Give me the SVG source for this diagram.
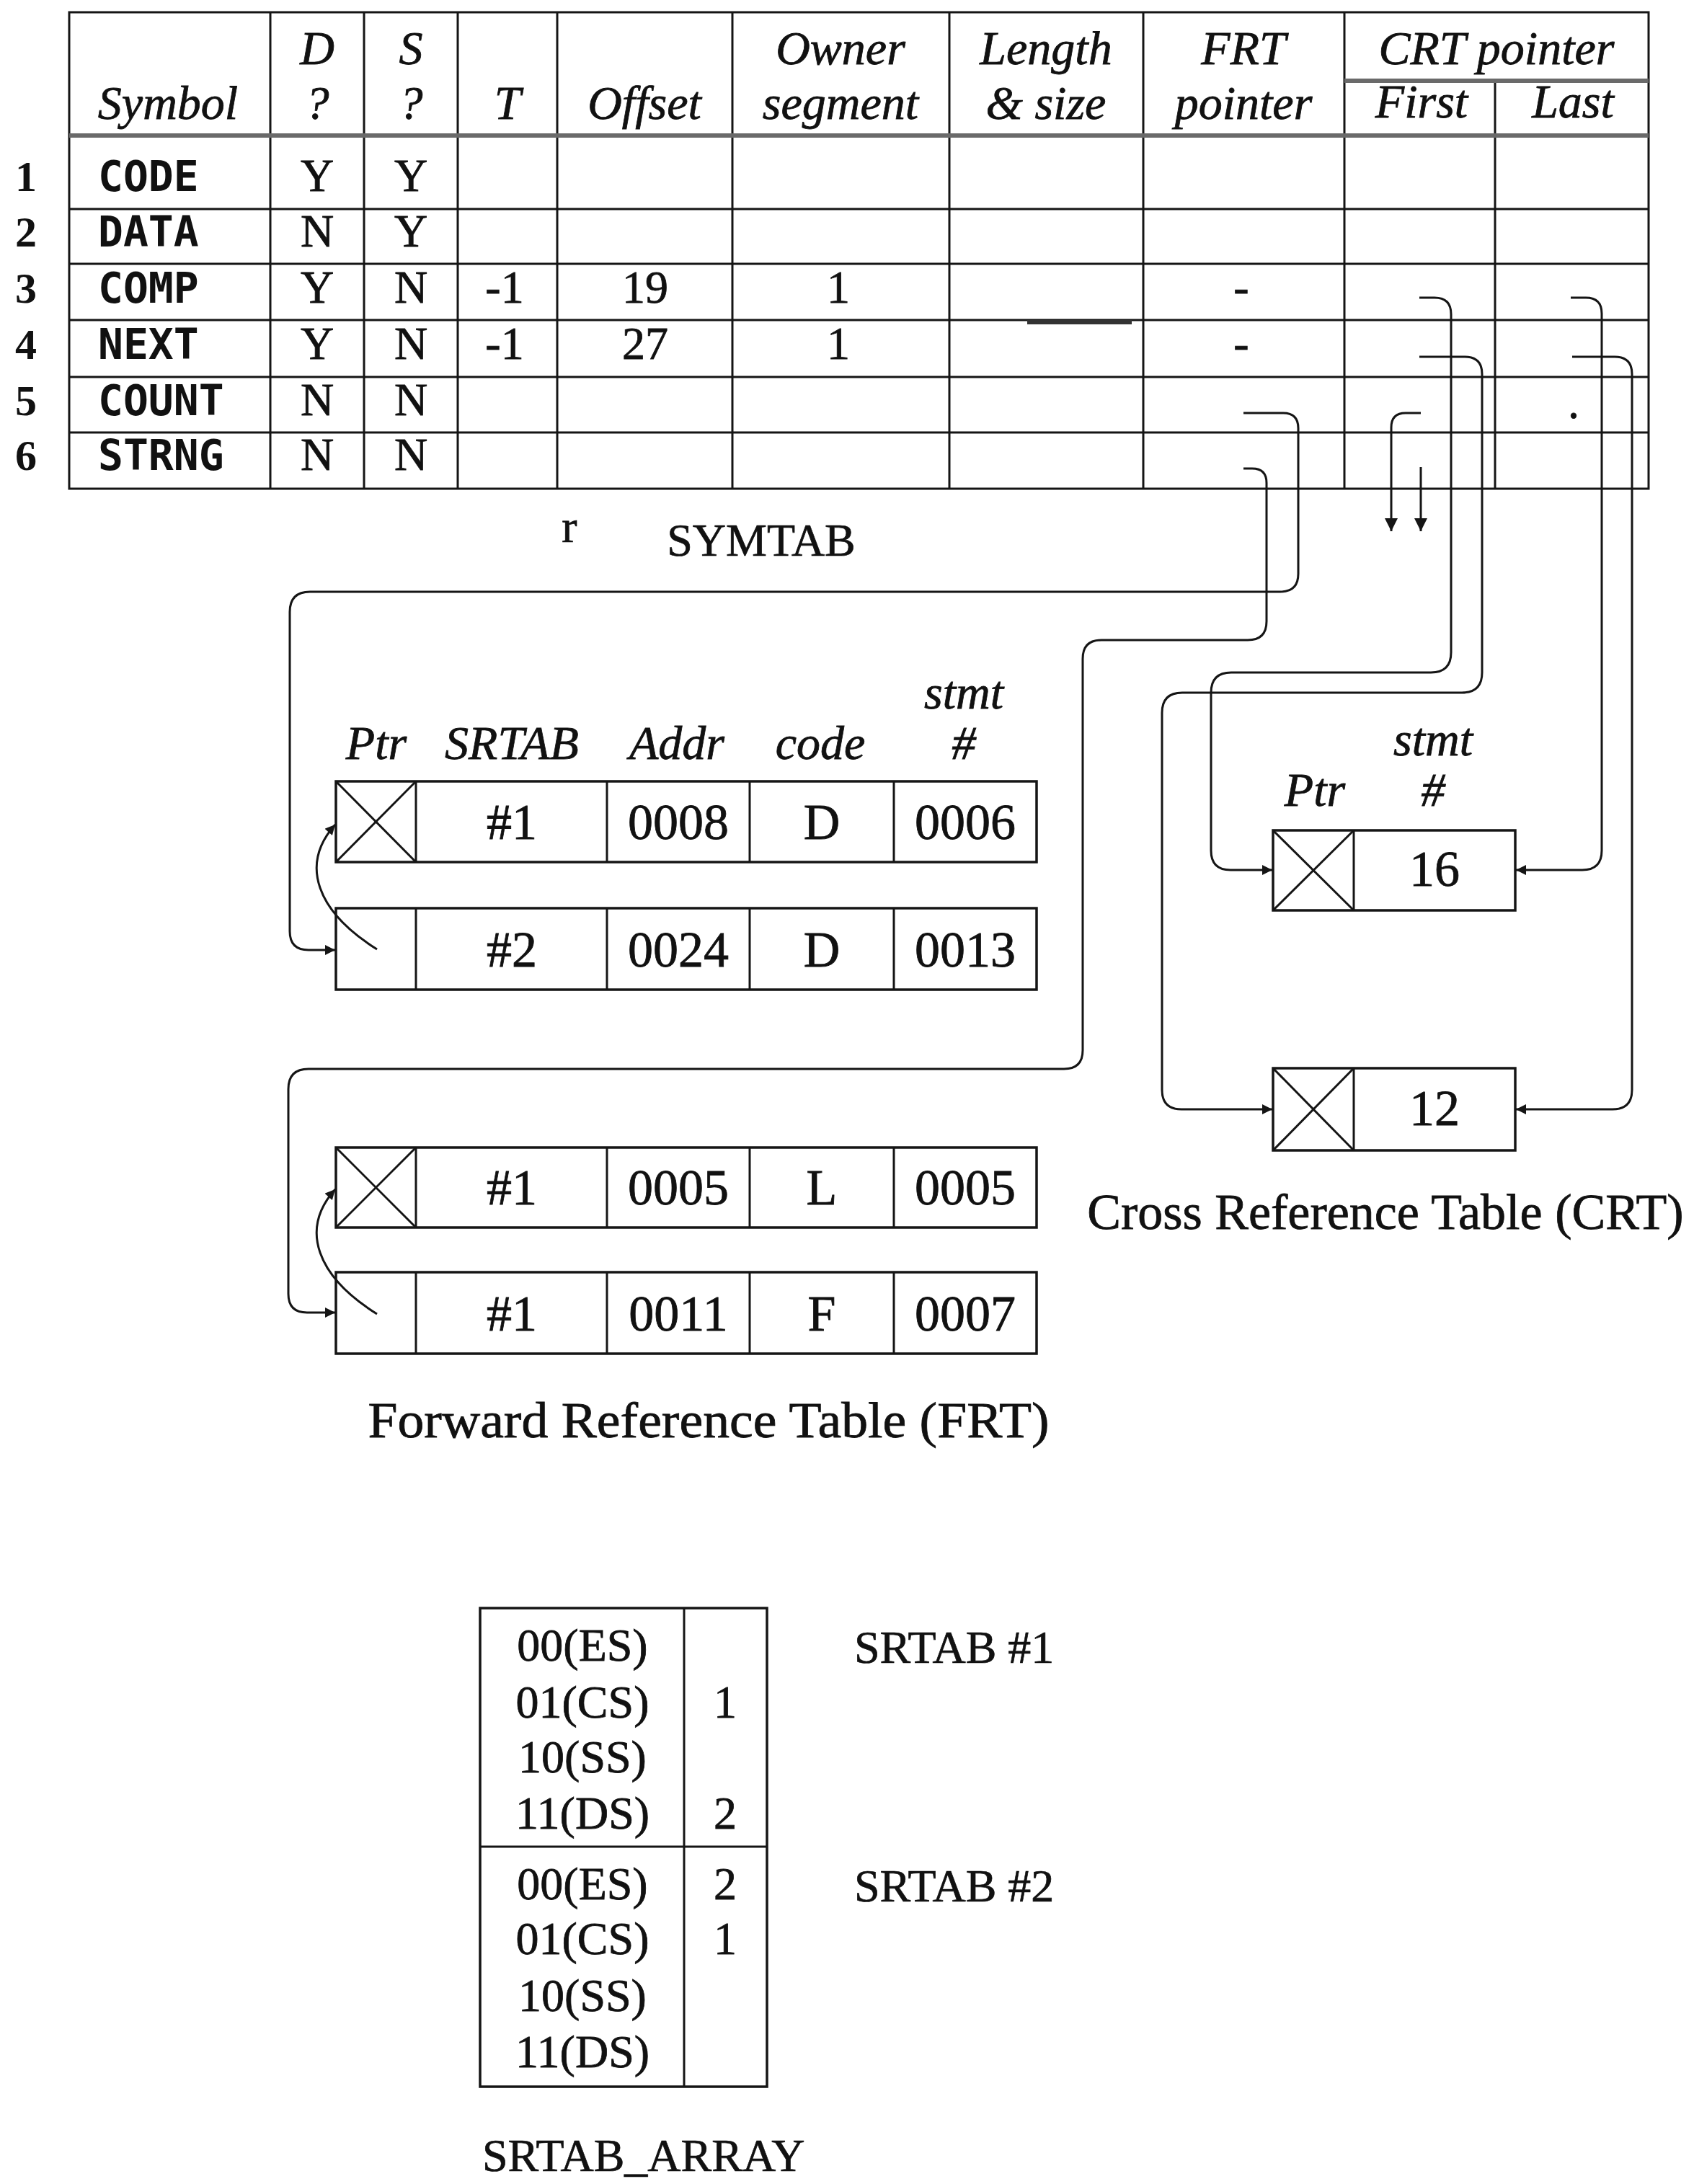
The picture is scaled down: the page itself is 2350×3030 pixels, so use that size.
<svg xmlns="http://www.w3.org/2000/svg" width="2350" height="3030" viewBox="0 0 2350 3030">
<style>
.bg{fill:#fff}
.g{stroke:#151515;stroke-width:3;fill:none}
.hd{stroke:#6a6a6a;stroke-width:6;fill:none}
.box{stroke:#151515;stroke-width:3.5;fill:#fff}
.ln{stroke:#151515;stroke-width:3;fill:none}
.conn{stroke:#151515;stroke-width:3;fill:none}
.it{font-family:"Liberation Serif","Times New Roman",serif;font-style:italic;font-size:66px;text-anchor:middle;fill:#111;stroke:#111;stroke-width:0.8}
.mono{font-family:"DejaVu Sans Mono","Liberation Mono",monospace;font-weight:bold;font-size:58px;fill:#111}
.sv{font-family:"Liberation Serif","Times New Roman",serif;font-size:64px;text-anchor:middle;fill:#111;stroke:#111;stroke-width:0.8}
.num{font-family:"Liberation Serif","Times New Roman",serif;font-weight:bold;font-size:60px;text-anchor:middle;fill:#111}
.val{font-family:"Liberation Serif","Times New Roman",serif;font-size:70px;text-anchor:middle;fill:#111;stroke:#111;stroke-width:0.8}
.lbl{font-family:"Liberation Serif","Times New Roman",serif;font-size:64px;fill:#111;stroke:#111;stroke-width:0.7}
</style>
<defs>
<marker id="ah" viewBox="0 0 10 10" refX="10" refY="5" markerWidth="18" markerHeight="14" markerUnits="userSpaceOnUse" orient="auto">
<path d="M0,0 L10,5 L0,10 z" fill="#151515"/>
</marker>
<marker id="ahd" viewBox="0 0 10 10" refX="10" refY="5" markerWidth="24" markerHeight="18" markerUnits="userSpaceOnUse" orient="auto">
<path d="M0,0 L10,5 L0,10 z" fill="#151515"/>
</marker>
</defs>
<rect class="bg" x="0" y="0" width="2350" height="3030"/>

<g id="symtab">
<rect class="g" x="96" y="17" width="2191" height="661"/>
<line class="g" x1="375" y1="17" x2="375" y2="678"/>
<line class="g" x1="505" y1="17" x2="505" y2="678"/>
<line class="g" x1="635" y1="17" x2="635" y2="678"/>
<line class="g" x1="773" y1="17" x2="773" y2="678"/>
<line class="g" x1="1016" y1="17" x2="1016" y2="678"/>
<line class="g" x1="1317" y1="17" x2="1317" y2="678"/>
<line class="g" x1="1586" y1="17" x2="1586" y2="678"/>
<line class="g" x1="1865" y1="17" x2="1865" y2="678"/>
<line class="g" x1="2074" y1="112" x2="2074" y2="678"/>
<line class="hd" x1="1865" y1="112" x2="2287" y2="112"/>
<line class="hd" x1="96" y1="188" x2="2287" y2="188"/>
<line class="g" x1="96" y1="290" x2="2287" y2="290" stroke-width="4"/>
<line class="g" x1="96" y1="366" x2="2287" y2="366"/>
<line class="g" x1="96" y1="444" x2="2287" y2="444"/>
<line class="g" x1="96" y1="523" x2="2287" y2="523" stroke-width="4"/>
<line class="g" x1="96" y1="600" x2="2287" y2="600"/>
<line x1="1425" y1="447" x2="1570" y2="447" stroke="#333" stroke-width="6"/>

<text class="it" x="233" y="165">Symbol</text>
<text class="it" x="440" y="89">D</text>
<text class="it" x="440" y="165">?</text>
<text class="it" x="570" y="89">S</text>
<text class="it" x="570" y="165">?</text>
<text class="it" x="704" y="165">T</text>
<text class="it" x="894" y="165">Offset</text>
<text class="it" x="1166" y="89">Owner</text>
<text class="it" x="1166" y="165">segment</text>
<text class="it" x="1451" y="89">Length</text>
<text class="it" x="1451" y="165">&amp; size</text>
<text class="it" x="1725" y="89">FRT</text>
<text class="it" x="1725" y="165">pointer</text>
<text class="it" x="2076" y="89">CRT pointer</text>
<text class="it" x="1972" y="163">First</text>
<text class="it" x="2182" y="163">Last</text>

<text class="num" x="36" y="265">1</text>
<text class="num" x="36" y="342">2</text>
<text class="num" x="36" y="420">3</text>
<text class="num" x="36" y="498">4</text>
<text class="num" x="36" y="576">5</text>
<text class="num" x="36" y="652">6</text>

<text class="mono" x="136" y="265">CODE</text>
<text class="mono" x="136" y="342">DATA</text>
<text class="mono" x="136" y="420">COMP</text>
<text class="mono" x="136" y="498">NEXT</text>
<text class="mono" x="136" y="576">COUNT</text>
<text class="mono" x="136" y="652">STRNG</text>

<text class="sv" x="440" y="265">Y</text><text class="sv" x="570" y="265">Y</text>
<text class="sv" x="440" y="342">N</text><text class="sv" x="570" y="342">Y</text>
<text class="sv" x="440" y="420">Y</text><text class="sv" x="570" y="420">N</text>
<text class="sv" x="440" y="498">Y</text><text class="sv" x="570" y="498">N</text>
<text class="sv" x="440" y="576">N</text><text class="sv" x="570" y="576">N</text>
<text class="sv" x="440" y="652">N</text><text class="sv" x="570" y="652">N</text>

<text class="sv" x="700" y="420">-1</text>
<text class="sv" x="895" y="420">19</text>
<text class="sv" x="1163" y="420">1</text>
<text class="sv" x="700" y="498">-1</text>
<text class="sv" x="895" y="498">27</text>
<text class="sv" x="1163" y="498">1</text>
<text class="sv" x="1722" y="420">-</text>
<text class="sv" x="1722" y="498">-</text>
<text class="sv" x="2183" y="580">.</text>
</g>

<g id="symtab-label">
<text class="lbl" x="1056" y="771" text-anchor="middle">SYMTAB</text>
<text class="lbl" x="790" y="752" text-anchor="middle" font-size="22">r</text>
</g>

<g id="frt1-head">
<text class="it" x="522" y="1053">Ptr</text>
<text class="it" x="710" y="1053">SRTAB</text>
<text class="it" x="939" y="1053">Addr</text>
<text class="it" x="1138" y="1053">code</text>
<text class="it" x="1337" y="983">stmt</text>
<text class="it" x="1337" y="1053">#</text>
</g>

<g id="frt1-rec1">
<rect class="box" x="466" y="1084" width="972" height="112"/>
<line class="ln" x1="577" y1="1084" x2="577" y2="1196"/>
<line class="ln" x1="842" y1="1084" x2="842" y2="1196"/>
<line class="ln" x1="1040" y1="1084" x2="1040" y2="1196"/>
<line class="ln" x1="1240" y1="1084" x2="1240" y2="1196"/>
<line class="ln" x1="466" y1="1084" x2="577" y2="1196"/>
<line class="ln" x1="577" y1="1084" x2="466" y2="1196"/>
<text class="val" x="710" y="1164">#1</text>
<text class="val" x="941" y="1164">0008</text>
<text class="val" x="1140" y="1164">D</text>
<text class="val" x="1339" y="1164">0006</text>
</g>

<g id="frt1-rec2">
<rect class="box" x="466" y="1260" width="972" height="113"/>
<line class="ln" x1="577" y1="1260" x2="577" y2="1373"/>
<line class="ln" x1="842" y1="1260" x2="842" y2="1373"/>
<line class="ln" x1="1040" y1="1260" x2="1040" y2="1373"/>
<line class="ln" x1="1240" y1="1260" x2="1240" y2="1373"/>
<text class="val" x="710" y="1341">#2</text>
<text class="val" x="941" y="1341">0024</text>
<text class="val" x="1140" y="1341">D</text>
<text class="val" x="1339" y="1341">0013</text>
</g>

<g id="frt2-rec1">
<rect class="box" x="466" y="1592" width="972" height="111"/>
<line class="ln" x1="577" y1="1592" x2="577" y2="1703"/>
<line class="ln" x1="842" y1="1592" x2="842" y2="1703"/>
<line class="ln" x1="1040" y1="1592" x2="1040" y2="1703"/>
<line class="ln" x1="1240" y1="1592" x2="1240" y2="1703"/>
<line class="ln" x1="466" y1="1592" x2="577" y2="1703"/>
<line class="ln" x1="577" y1="1592" x2="466" y2="1703"/>
<text class="val" x="710" y="1671">#1</text>
<text class="val" x="941" y="1671">0005</text>
<text class="val" x="1140" y="1671">L</text>
<text class="val" x="1339" y="1671">0005</text>
</g>

<g id="frt2-rec2">
<rect class="box" x="466" y="1765" width="972" height="113"/>
<line class="ln" x1="577" y1="1765" x2="577" y2="1878"/>
<line class="ln" x1="842" y1="1765" x2="842" y2="1878"/>
<line class="ln" x1="1040" y1="1765" x2="1040" y2="1878"/>
<line class="ln" x1="1240" y1="1765" x2="1240" y2="1878"/>
<text class="val" x="710" y="1846">#1</text>
<text class="val" x="941" y="1846">0011</text>
<text class="val" x="1140" y="1846">F</text>
<text class="val" x="1339" y="1846">0007</text>
</g>

<g id="frt-label">
<text class="val" x="983" y="1994" textLength="945" lengthAdjust="spacingAndGlyphs">Forward Reference Table (FRT)</text>
</g>

<g id="crt-head">
<text class="it" x="1824" y="1118">Ptr</text>
<text class="it" x="1988" y="1048">stmt</text>
<text class="it" x="1988" y="1118">#</text>
</g>

<g id="crt-rec16">
<rect class="box" x="1766" y="1152" width="336" height="111"/>
<line class="ln" x1="1878" y1="1152" x2="1878" y2="1263"/>
<line class="ln" x1="1766" y1="1152" x2="1878" y2="1263"/>
<line class="ln" x1="1878" y1="1152" x2="1766" y2="1263"/>
<text class="val" x="1990" y="1229">16</text>
</g>

<g id="crt-rec12">
<rect class="box" x="1766" y="1482" width="336" height="114"/>
<line class="ln" x1="1878" y1="1482" x2="1878" y2="1596"/>
<line class="ln" x1="1766" y1="1482" x2="1878" y2="1596"/>
<line class="ln" x1="1878" y1="1482" x2="1766" y2="1596"/>
<text class="val" x="1990" y="1561">12</text>
</g>

<g id="crt-label">
<text class="val" x="1922" y="1705" font-size="66">Cross Reference Table (CRT)</text>
</g>

<g id="srtab-array">
<rect class="box" x="666" y="2231" width="398" height="664"/>
<line class="ln" x1="949" y1="2231" x2="949" y2="2895"/>
<line class="ln" x1="666" y1="2562" x2="1064" y2="2562"/>
<text class="sv" x="808" y="2304">00(ES)</text>
<text class="sv" x="808" y="2383">01(CS)</text>
<text class="sv" x="808" y="2459">10(SS)</text>
<text class="sv" x="808" y="2537">11(DS)</text>
<text class="sv" x="808" y="2635">00(ES)</text>
<text class="sv" x="808" y="2711">01(CS)</text>
<text class="sv" x="808" y="2790">10(SS)</text>
<text class="sv" x="808" y="2868">11(DS)</text>
<text class="sv" x="1006" y="2383">1</text>
<text class="sv" x="1006" y="2537">2</text>
<text class="sv" x="1006" y="2635">2</text>
<text class="sv" x="1006" y="2711">1</text>
<text class="lbl" x="1185" y="2307">SRTAB #1</text>
<text class="lbl" x="1185" y="2638">SRTAB #2</text>
<text class="lbl" x="669" y="3012">SRTAB_ARRAY</text>
</g>

<g id="connectors">
<path class="conn" d="M1725 573 H1780 Q1801 573 1801 594 V796 Q1801 821 1776 821 H430 Q402 821 402 849 V1292 Q402 1318 428 1318 H465" marker-end="url(#ah)"/>
<path class="conn" d="M1725 650 H1737 Q1757 650 1757 670 V862 Q1757 888 1731 888 H1528 Q1502 888 1502 914 V1457 Q1502 1483 1476 1483 H428 Q400 1483 400 1511 V1795 Q400 1821 426 1821 H465" marker-end="url(#ah)"/>
<path class="conn" d="M523 1317 C440 1265 415 1200 465 1144" marker-end="url(#ah)"/>
<path class="conn" d="M523 1823 C440 1771 415 1706 465 1650" marker-end="url(#ah)"/>
<path class="conn" d="M1969 413 H1990 Q2013 413 2013 436 V905 Q2013 933 1985 933 H1708 Q1680 933 1680 961 V1180 Q1680 1207 1707 1207 H1765" marker-end="url(#ah)"/>
<path class="conn" d="M1969 495 H2032 Q2056 495 2056 519 V933 Q2056 961 2028 961 H1640 Q1612 961 1612 989 V1512 Q1612 1539 1639 1539 H1765" marker-end="url(#ah)"/>
<path class="conn" d="M2179 413 H2200 Q2222 413 2222 435 V1180 Q2222 1207 2195 1207 H2103" marker-end="url(#ah)"/>
<path class="conn" d="M2181 495 H2240 Q2264 495 2264 519 V1512 Q2264 1539 2237 1539 H2103" marker-end="url(#ah)"/>
<path class="conn" d="M1971 573 H1950 Q1930 573 1930 593 V737" marker-end="url(#ahd)"/>
<path class="conn" d="M1971 648 V737" marker-end="url(#ahd)"/>
</g>
</svg>
